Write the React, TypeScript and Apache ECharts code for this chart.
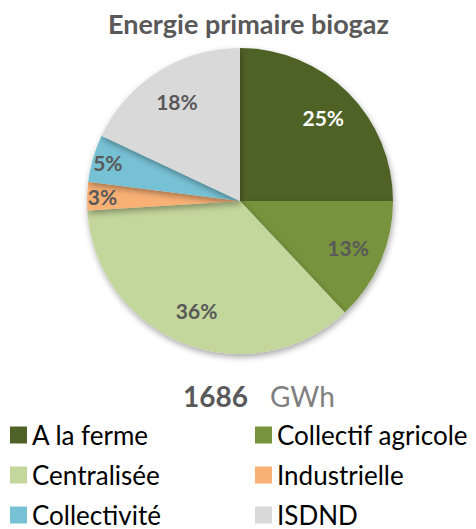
import React, { useEffect, useRef } from "react";
import * as echarts from "echarts";

const categories = ["A la ferme", "Collectif agricole", "Centralisée", "Industrielle", "Collectivité", "ISDND"];
const shares = [25, 13, 36, 3, 5, 18];
const colors = ["#4F6228", "#77933C", "#C3D69B", "#F9B075", "#77C1D4", "#D9D9D9"];
const labelColors = ["#FFFFFF", "#595959", "#595959", "#595959", "#595959", "#595959"];
const smallSlices = ["Industrielle", "Collectivité"];
const legendLeft = ["A la ferme", "Centralisée", "Collectivité"];
const legendRight = ["Collectif agricole", "Industrielle", "ISDND"];
const titleText = "Energie primaire biogaz";
const totalValue = 1686;
const totalUnit = "GWh";

const FONT = "Lato, 'Open Sans', sans-serif";

export default function App() {
  const ref = useRef<HTMLDivElement>(null);
  useEffect(() => {
    if (!ref.current) return;
    const chart = echarts.init(ref.current, undefined, { renderer: "svg" });
    const center = [240, 201];
    const R = 153;
    const labelData = (small: boolean) =>
      categories.map((name, i) => ({
        name,
        value: shares[i],
        label: {
          show: smallSlices.includes(name) === small,
          color: labelColors[i],
        },
      }));
    const overlay = (small: boolean, r0: number) => ({
      type: "pie",
      center,
      radius: [r0, R],
      startAngle: 90,
      clockwise: true,
      silent: true,
      itemStyle: { color: "rgba(0,0,0,0)", borderWidth: 0 },
      label: {
        show: true,
        position: "inside",
        formatter: "{c}%",
        fontFamily: FONT,
        fontWeight: "bold",
        fontSize: 21,
      },
      labelLine: { show: false },
      data: labelData(small),
    });
    const legendBase = {
      orient: "vertical",
      top: 422,
      height: 200,
      padding: 0,
      icon: "rect",
      itemWidth: 17,
      itemHeight: 17,
      itemGap: 14,
      selectedMode: false,
      textStyle: { fontFamily: FONT, fontSize: 26, color: "#000", lineHeight: 22 },
    };
    chart.setOption({
      animation: false,
      color: colors,
      title: [
        {
          text: titleText,
          left: 108,
          top: 10,
          padding: 0,
          textStyle: { fontFamily: FONT, fontWeight: "bold", fontSize: 27, color: "#595959" },
        },
        {
          text: `{a|${totalValue}}{b|${totalUnit}}`,
          left: 183,
          top: 382,
          padding: 0,
          textStyle: {
            rich: {
              a: { fontFamily: FONT, fontWeight: "bold", fontSize: 28, color: "#595959" },
              b: {
                fontFamily: FONT,
                fontWeight: "normal",
                fontSize: 28,
                color: "#7F7F7F",
                padding: [0, 0, 0, 22],
              },
            },
          },
        },
      ],
      legend: [
        { ...legendBase, left: 10, data: legendLeft },
        { ...legendBase, left: 255, data: legendRight },
      ],
      series: [
        {
          type: "pie",
          center,
          radius: R,
          startAngle: 90,
          clockwise: true,
          label: { show: false },
          labelLine: { show: false },
          itemStyle: {
            shadowBlur: 6,
            shadowOffsetY: 3,
            shadowOffsetX: 1,
            shadowColor: "rgba(0,0,0,0.35)",
          },
          data: categories.map((name, i) => ({ name, value: shares[i] })),
        },
        overlay(false, R * 0.5),
        overlay(true, R * 0.76),
      ],
    });
    return () => chart.dispose();
  }, []);
  return (
    <div
      ref={ref}
      style={{ position: "fixed", left: 0, top: 0, width: 476, height: 529, background: "#fff" }}
    />
  );
}
